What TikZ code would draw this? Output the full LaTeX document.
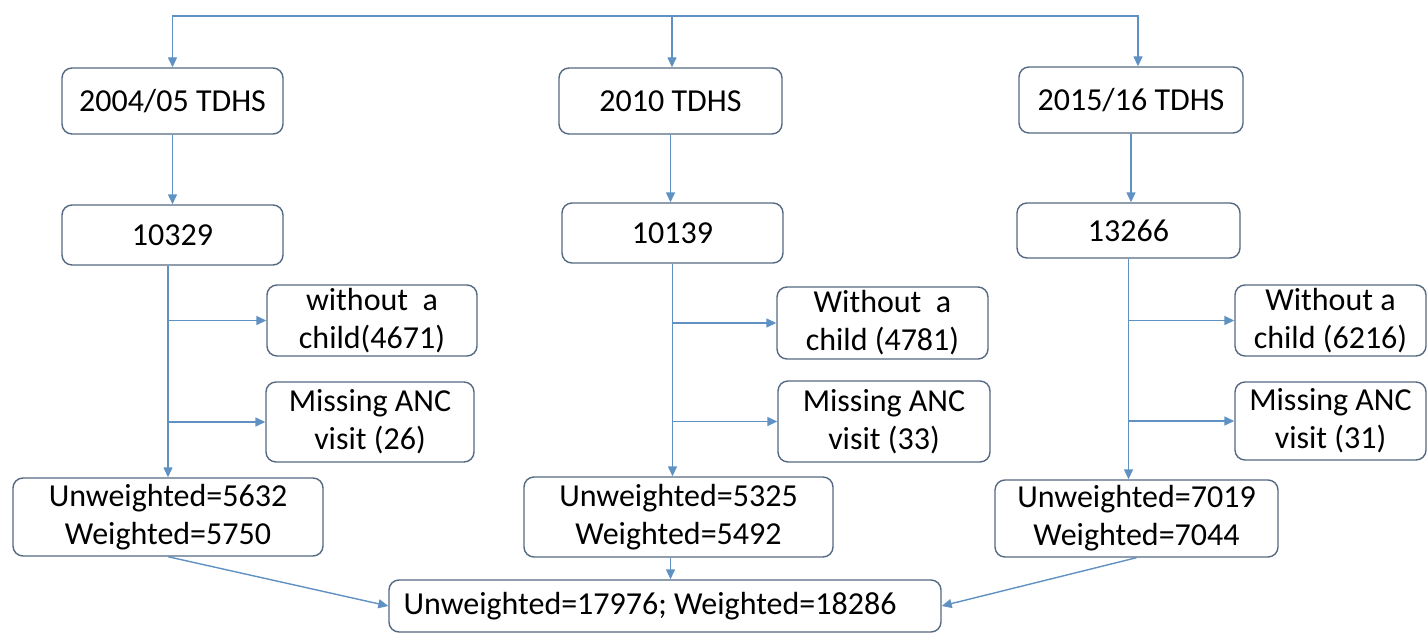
\documentclass[tikz,border=0pt]{standalone}
\usepackage{fontspec}
\setmainfont{Carlito}
\usetikzlibrary{arrows.meta,calc}
\definecolor{linkc}{RGB}{95,145,195}
\definecolor{boxc}{RGB}{85,105,130}
\tikzset{
  box/.style={draw=boxc,line width=1.4pt,rounded corners=10pt,fill=white,
    font=\fontsize{32}{38}\selectfont,align=center,inner sep=0pt,anchor=center},
  arr/.style={draw=linkc,line width=1.4pt,-{Triangle[length=10pt,width=9pt]}},
  ln/.style={draw=linkc,line width=1.4pt}
}
\begin{document}
\begin{tikzpicture}[x=1pt,y=-1pt]
\useasboundingbox (0,0) rectangle (1427,634);
% left column
\node[box,minimum width=221pt,minimum height=66pt] (s1) at (172.5,101) {2004/05 TDHS};
\node[box,minimum width=221pt,minimum height=60pt] (n1) at (172.5,235) {10329};
\node[box,minimum width=210pt,minimum height=71pt] (w1) at (372,320.5) {without\ \ a\\child(4671)};
\node[box,minimum width=208pt,minimum height=80pt] (m1) at (370,422) {Missing ANC\\visit (26)};
\node[box,minimum width=310pt,minimum height=78pt] (u1) at (168,517) {Unweighted=5632\\Weighted=5750};
% middle column
\node[box,minimum width=223pt,minimum height=66pt] (s2) at (670.5,101) {2010 TDHS};
\node[box,minimum width=221pt,minimum height=60pt] (n2) at (672.5,233) {10139};
\node[box,minimum width=211pt,minimum height=72pt] (w2) at (882.5,323) {Without\ \ a\\child (4781)};
\node[box,minimum width=212pt,minimum height=81pt] (m2) at (884,421.5) {Missing ANC\\visit (33)};
\node[box,minimum width=309pt,minimum height=80pt] (u2) at (678.5,517) {Unweighted=5325\\Weighted=5492};
% right column
\node[box,minimum width=224pt,minimum height=66pt] (s3) at (1131,100) {2015/16 TDHS};
\node[box,minimum width=223pt,minimum height=55pt] (n3) at (1128.5,230.5) {13266};
\node[box,minimum width=191pt,minimum height=71pt] (w3) at (1330.5,320.5) {Without a\\child (6216)};
\node[box,minimum width=191pt,minimum height=78pt] (m3) at (1330.5,421) {Missing ANC\\visit (31)};
\node[box,minimum width=283pt,minimum height=77pt] (u3) at (1136.5,518.5) {Unweighted=7019\\Weighted=7044};
% bottom
\node[box,minimum width=552pt,minimum height=52pt] (b) at (665,606) {Unweighted=17976; Weighted=18286\hspace*{30pt}};
% top distribution
\coordinate (top) at (672,16);
\draw[arr] (top) -| (s1.north);
\draw[arr] (top) -| ([xshift=7pt]s3.north);
\draw[arr] (top) -- (top |- s2.north);
% down arrows
\draw[arr] (s1.south) -- (n1.north);
\draw[arr] (s2.south) -- (s2.south |- n2.north);
\draw[arr] (s3.south) -- (s3.south |- n3.north);
\draw[arr] (n1.south -| u1.north) -- (u1.north);
\draw[arr] (n2.south) -- (n2.south |- u2.north);
\draw[arr] (n3.south) -- (n3.south |- u3.north);
% exclusions
\draw[arr] (w1.west -| u1.north) -- (w1.west);
\draw[arr] (m1.west -| u1.north) -- (m1.west);
\draw[arr] (w2.west -| n2.south) -- (w2.west);
\draw[arr] (m2.west -| n2.south) -- (m2.west);
\draw[arr] (w3.west -| n3.south) -- (w3.west);
\draw[arr] (m3.west -| n3.south) -- (m3.west);
% merge
\draw[arr] (u1.south) -- (b.west);
\draw[arr] (u2.south -| s2.south) -- (b.north -| s2.south);
\draw[arr] (u3.south) -- (b.east);
\end{tikzpicture}
\end{document}
